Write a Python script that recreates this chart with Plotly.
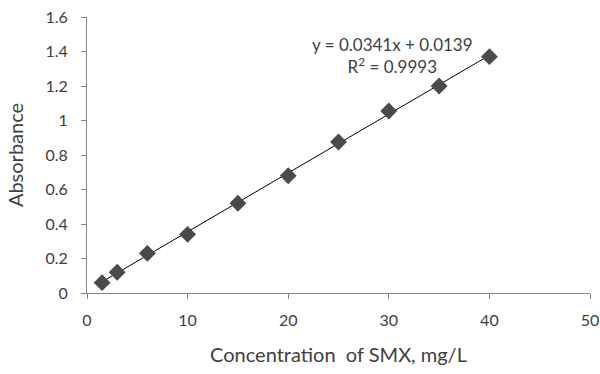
import plotly.graph_objects as go

concentration = [1.5, 3, 6, 10, 15, 20, 25, 30, 35, 40]
absorbance = [0.06, 0.12, 0.23, 0.34, 0.52, 0.68, 0.875, 1.055, 1.20, 1.37]
slope = 0.0341
intercept = 0.0139
r_squared = 0.9993

x_fit = [min(concentration), max(concentration)]
y_fit = [slope * v + intercept for v in x_fit]

font_family = "Lato"
text_color = "#404040"

fig = go.Figure()
fig.add_trace(go.Scatter(x=x_fit, y=y_fit, mode="lines",
                         line=dict(color="#000000", width=1), showlegend=False, hoverinfo="skip"))
fig.add_trace(go.Scatter(x=concentration, y=absorbance, mode="markers",
                         marker=dict(symbol="diamond", size=13, color="#4a4a4a"),
                         showlegend=False))

fig.add_annotation(x=30.4, y=1.375, xref="x", yref="y", yanchor="middle",
                   text=f"y = {slope}x + {intercept}<br>R<sup>2</sup> = {r_squared}",
                   showarrow=False, align="center",
                   font=dict(family=font_family, size=17, color=text_color))

fig.update_layout(
    width=600, height=374,
    margin=dict(l=87, r=10, t=17, b=81, autoexpand=False),
    paper_bgcolor="white", plot_bgcolor="white",
    font=dict(family=font_family, size=16, color=text_color),
    xaxis=dict(range=[0, 50], dtick=10, showgrid=False, zeroline=False,
               showline=True, linecolor="#868686", linewidth=1,
               ticks="outside", ticklen=5, tickcolor="#868686", automargin=False,
               ticklabelstandoff=8,
               title=dict(text="Concentration  of SMX, mg/L", font=dict(size=20), standoff=19)),
    yaxis=dict(range=[0, 1.6], dtick=0.2, showgrid=False, zeroline=False,
               showline=True, linecolor="#868686", linewidth=1,
               ticks="outside", ticklen=5, tickcolor="#868686", automargin=False,
               ticklabelstandoff=10, tickformat="~g",
               title=dict(text="Absorbance", font=dict(size=20), standoff=16)),
)

fig.write_html("out.html", config={"displayModeBar": False},
               post_script="document.body.style.margin='0';document.body.style.overflow='hidden';")
